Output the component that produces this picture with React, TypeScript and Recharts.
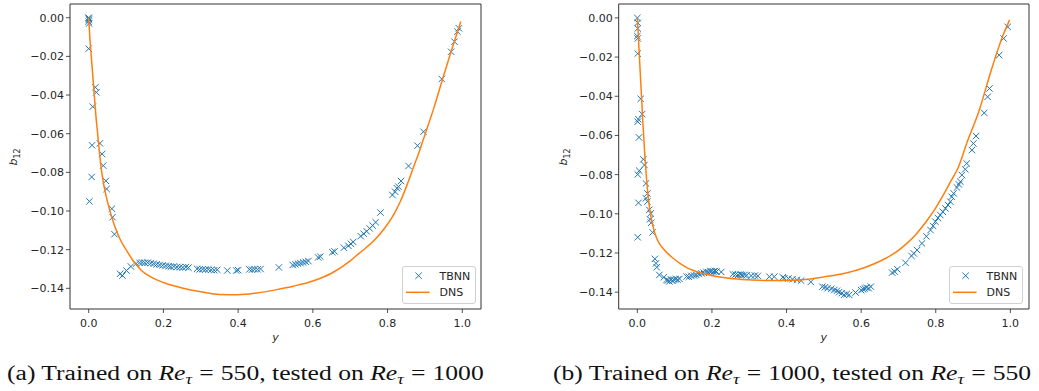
import React from "react";
import {
  ReferenceArea,
  Scatter,
  ScatterChart,
  XAxis,
  YAxis
} from "recharts";

type Pt = { x: number; y: number };

const toPts = (rows: number[][]): Pt[] => rows.map(([x, y]) => ({ x, y }));

// (a) trained on Re_tau = 550, tested on Re_tau = 1000
const tbnnA = toPts([
  [0.0, 0.0], [0.001, -0.001], [0.0, -0.002], [0.001, -0.003], [0.0, -0.0005],
  [0.0, -0.016], [0.018, -0.036], [0.0205, -0.0386], [0.011, -0.046], [0.009, -0.066],
  [0.03, -0.065], [0.036, -0.0705], [0.039, -0.0765], [0.008, -0.0824], [0.046, -0.0844],
  [0.048, -0.0886], [0.002, -0.095], [0.062, -0.0988], [0.064, -0.1032], [0.069, -0.112],
  [0.084, -0.1325], [0.0905, -0.1334], [0.101, -0.1308], [0.113, -0.1287],
  [0.127, -0.1272], [0.136, -0.1268], [0.143, -0.1267], [0.15, -0.1268], [0.158, -0.1267],
  [0.166, -0.127], [0.174, -0.1273], [0.182, -0.1276], [0.19, -0.1279], [0.198, -0.1281],
  [0.206, -0.1284], [0.214, -0.1286], [0.22, -0.1288], [0.228, -0.1287], [0.236, -0.129],
  [0.244, -0.1291], [0.252, -0.1292], [0.26, -0.129], [0.267, -0.1293], [0.29, -0.1299],
  [0.297, -0.1302], [0.305, -0.1301], [0.312, -0.1303], [0.32, -0.1302], [0.328, -0.1305],
  [0.336, -0.1306], [0.344, -0.1304], [0.371, -0.1308], [0.395, -0.1308], [0.4, -0.1306],
  [0.43, -0.1302], [0.437, -0.1303], [0.444, -0.1301], [0.452, -0.1302], [0.46, -0.13],
  [0.509, -0.1292], [0.546, -0.1279], [0.553, -0.1276], [0.56, -0.1272], [0.567, -0.127],
  [0.574, -0.1266], [0.581, -0.1263], [0.588, -0.1259], [0.614, -0.124], [0.62, -0.1236],
  [0.652, -0.1213], [0.658, -0.1209], [0.683, -0.119], [0.695, -0.118], [0.702, -0.117],
  [0.708, -0.116], [0.728, -0.113], [0.736, -0.1118], [0.744, -0.1105], [0.752, -0.109],
  [0.76, -0.1075], [0.768, -0.1058], [0.781, -0.1008], [0.813, -0.0917], [0.82, -0.09],
  [0.825, -0.0882], [0.829, -0.0874], [0.836, -0.0845], [0.856, -0.0767], [0.88, -0.0662],
  [0.896, -0.059], [0.945, -0.0317], [0.97, -0.0176], [0.979, -0.0124], [0.987, -0.0072],
  [0.991, -0.0055]
]);

const dnsA = toPts([
  [0.0, 0.0], [0.003, -0.01], [0.007, -0.02], [0.011, -0.03], [0.015, -0.04],
  [0.019, -0.05], [0.024, -0.06], [0.029, -0.07], [0.035, -0.08], [0.042, -0.088],
  [0.05, -0.095], [0.06, -0.102], [0.07, -0.108], [0.085, -0.115], [0.1, -0.12],
  [0.12, -0.126], [0.14, -0.1305], [0.17, -0.1345], [0.2, -0.137], [0.25, -0.1398],
  [0.3, -0.1418], [0.35, -0.1432], [0.4, -0.1433], [0.45, -0.1424], [0.5, -0.1408],
  [0.55, -0.1388], [0.6, -0.1362], [0.65, -0.1322], [0.7, -0.1258], [0.722, -0.1222],
  [0.745, -0.1185], [0.767, -0.1146], [0.794, -0.1084], [0.816, -0.102], [0.834, -0.0951],
  [0.851, -0.087], [0.869, -0.0775], [0.887, -0.068], [0.9, -0.0605], [0.925, -0.046],
  [0.946, -0.0325], [0.97, -0.0175], [0.996, -0.002]
]);

// (b) trained on Re_tau = 1000, tested on Re_tau = 550
const tbnnB = toPts([
  [0.0, 0.0], [0.001, -0.0025], [0.001, -0.0054], [0.0, -0.0093], [0.001, -0.0105],
  [0.001, -0.0182], [0.009, -0.0413], [0.013, -0.0491], [0.001, -0.053], [0.0025, -0.0517],
  [0.0045, -0.061], [0.016, -0.0722], [0.019, -0.0751], [0.001, -0.0799], [0.005, -0.078],
  [0.023, -0.0845], [0.027, -0.0896], [0.003, -0.0944], [0.023, -0.0921], [0.027, -0.0938],
  [0.032, -0.098], [0.036, -0.0998], [0.034, -0.1028], [0.037, -0.1046], [0.041, -0.1095],
  [0.001, -0.112], [0.047, -0.123], [0.05, -0.1253], [0.052, -0.1273], [0.059, -0.1312],
  [0.071, -0.1324], [0.078, -0.1338], [0.082, -0.134], [0.086, -0.1345], [0.09, -0.1335],
  [0.094, -0.1342], [0.098, -0.1336], [0.103, -0.1333], [0.108, -0.1337], [0.113, -0.1332],
  [0.132, -0.132], [0.138, -0.1322], [0.145, -0.1317], [0.152, -0.1315], [0.158, -0.1312],
  [0.165, -0.1308], [0.172, -0.1304], [0.178, -0.1301], [0.185, -0.1297], [0.19, -0.1298],
  [0.195, -0.1294], [0.199, -0.1293], [0.204, -0.1295], [0.208, -0.1292], [0.212, -0.1295],
  [0.225, -0.1297], [0.256, -0.1309], [0.263, -0.131], [0.27, -0.1312], [0.276, -0.131],
  [0.281, -0.1313], [0.287, -0.1312], [0.293, -0.1314], [0.305, -0.1316], [0.315, -0.1315],
  [0.323, -0.1317], [0.354, -0.1321], [0.367, -0.1321], [0.39, -0.1324], [0.394, -0.1329],
  [0.405, -0.133], [0.416, -0.1334], [0.428, -0.1337], [0.439, -0.1341], [0.465, -0.1348],
  [0.496, -0.1372], [0.503, -0.1375], [0.51, -0.138], [0.52, -0.1383], [0.528, -0.1389],
  [0.535, -0.1393], [0.541, -0.14], [0.548, -0.1405], [0.554, -0.1414], [0.561, -0.141],
  [0.568, -0.1414], [0.585, -0.1402], [0.6, -0.139], [0.605, -0.1385], [0.61, -0.1382],
  [0.614, -0.1377], [0.62, -0.138], [0.626, -0.1372], [0.683, -0.13], [0.69, -0.1295],
  [0.697, -0.1283], [0.719, -0.125], [0.735, -0.1215], [0.741, -0.1202], [0.75, -0.1185],
  [0.763, -0.1151], [0.775, -0.1115], [0.786, -0.1083], [0.793, -0.1062], [0.799, -0.104],
  [0.806, -0.1022], [0.812, -0.1006], [0.819, -0.099], [0.826, -0.0972], [0.833, -0.0955],
  [0.839, -0.0938], [0.843, -0.0913], [0.848, -0.0896], [0.857, -0.0866], [0.862, -0.085],
  [0.866, -0.0836], [0.87, -0.0802], [0.879, -0.0773], [0.883, -0.0743], [0.897, -0.0675],
  [0.901, -0.0641], [0.908, -0.0603], [0.93, -0.0485], [0.939, -0.0403], [0.944, -0.036],
  [0.97, -0.019], [0.982, -0.0105], [0.993, -0.0046]
]);

const dnsB = toPts([
  [0.0, 0.0], [0.005, -0.018], [0.01, -0.036], [0.015, -0.054], [0.02, -0.07],
  [0.025, -0.083], [0.03, -0.093], [0.038, -0.103], [0.047, -0.11], [0.06, -0.1155],
  [0.07, -0.118], [0.096, -0.1227], [0.13, -0.1272], [0.185, -0.1309], [0.25, -0.133],
  [0.3, -0.1337], [0.35, -0.1341], [0.4, -0.134], [0.45, -0.1335], [0.5, -0.1322],
  [0.56, -0.1302], [0.61, -0.1274], [0.666, -0.1227], [0.7, -0.1187], [0.72, -0.1155],
  [0.74, -0.112], [0.76, -0.1075], [0.78, -0.1025], [0.8, -0.097], [0.82, -0.0905],
  [0.84, -0.0835], [0.86, -0.0765], [0.885, -0.063], [0.915, -0.048], [0.95, -0.026],
  [0.977, -0.0105], [0.998, -0.001]
]);

const xTicks = [0, 0.2, 0.4, 0.6, 0.8, 1.0];
const yTicks = [-0.14, -0.12, -0.1, -0.08, -0.06, -0.04, -0.02, 0];
const xDomain: [number, number] = [-0.05, 1.05];

const BLUE = "#1f77b4";
const ORANGE = "#ff7f0e";
const INK = "#262626";
const FONT = "'DejaVu Sans', sans-serif";

const Cross = (props: any) => {
  const { cx, cy } = props;
  const r = 3.2;
  return (
    <path
      d={`M${cx - r},${cy - r}L${cx + r},${cy + r}M${cx - r},${cy + r}L${cx + r},${cy - r}`}
      stroke={BLUE}
      strokeWidth={1}
      fill="none"
    />
  );
};

const NoMark = () => <g />;

const YTitle = ({ px, py }: { px: number; py: number }) => (
  <text
    x={px}
    y={py}
    transform={`rotate(-90, ${px}, ${py})`}
    textAnchor="middle"
    fontFamily={FONT}
    fontSize={11}
    fill={INK}
  >
    <tspan fontStyle="italic">b</tspan>
    <tspan fontSize={8} dy={3}>12</tspan>
  </text>
);

const XTitle = ({ px, py }: { px: number; py: number }) => (
  <text x={px} y={py} textAnchor="middle" fontFamily={FONT} fontSize={11} fontStyle="italic" fill={INK}>
    y
  </text>
);

const fmtY = (v: number) => v.toFixed(2).replace("-", "\u2212");

type PanelProps = {
  left: number;
  width: number;
  yAxisWidth: number;
  marginRight: number;
  yDomain: [number, number];
  tbnn: Pt[];
  dns: Pt[];
  yTitleX: number;
};

function Panel({ left, width, yAxisWidth, marginRight, yDomain, tbnn, dns, yTitleX }: PanelProps) {
  const plotCenter = yAxisWidth + (width - marginRight - yAxisWidth) / 2;
  return (
    <div style={{ position: "absolute", left, top: 0 }}>
      <ScatterChart
        width={width}
        height={391}
        margin={{ top: 4, right: marginRight, bottom: 52, left: 0 }}
      >
        <XAxis
          type="number"
          dataKey="x"
          domain={xDomain}
          ticks={xTicks}
          allowDataOverflow
          height={30}
          axisLine={false}
          tickLine={{ stroke: INK, strokeWidth: 0.8 }}
          tickSize={4}
          tickMargin={6}
          tick={{ fontSize: 11, fill: INK, fontFamily: FONT }}
          tickFormatter={(v: number) => v.toFixed(1)}
          label={<XTitle px={plotCenter} py={341} />}
        />
        <YAxis
          type="number"
          dataKey="y"
          domain={yDomain}
          ticks={yTicks}
          allowDataOverflow
          width={yAxisWidth}
          axisLine={false}
          tickLine={{ stroke: INK, strokeWidth: 0.8 }}
          tickSize={4}
          tickMargin={2}
          tick={{ fontSize: 11, fill: INK, fontFamily: FONT }}
          tickFormatter={fmtY}
          label={<YTitle px={yTitleX} py={157} />}
        />
        <ReferenceArea
          x1={xDomain[0]}
          x2={xDomain[1]}
          y1={yDomain[0]}
          y2={yDomain[1]}
          fill="none"
          stroke="#333"
          strokeWidth={1}
        />
        <Scatter data={tbnn} fill={BLUE} shape={Cross} isAnimationActive={false} />
        <Scatter
          data={dns}
          fill={ORANGE}
          shape={NoMark}
          line={{ stroke: ORANGE, strokeWidth: 1.5 }}
          lineJointType="monotoneX"
          isAnimationActive={false}
        />
      </ScatterChart>
    </div>
  );
}

function LegendBox({ left, top }: { left: number; top: number }) {
  return (
    <svg
      width={75}
      height={39}
      style={{ position: "absolute", left, top }}
    >
      <rect x={0.5} y={0.5} width={73} height={37} rx={2.5} fill="#fff" fillOpacity={0.8} stroke="#d0d0d0" />
      <Cross cx={16.6} cy={9.7} />
      <text x={37.6} y={13.7} fontFamily={FONT} fontSize={11} fill={INK}>TBNN</text>
      <line x1={4} x2={27.6} y1={26.3} y2={26.3} stroke={ORANGE} strokeWidth={1.5} />
      <text x={37.6} y={30.3} fontFamily={FONT} fontSize={11} fill={INK}>DNS</text>
    </svg>
  );
}

// the source figure is stretched a little horizontally, so the captions are too
const capStyle: React.CSSProperties = {
  position: "absolute",
  top: 362,
  fontFamily: "'Liberation Serif', 'Times New Roman', serif",
  fontSize: 20,
  lineHeight: "22px",
  color: "#111",
  whiteSpace: "nowrap",
  transform: "scaleX(1.28)",
  transformOrigin: "0 0"
};

const Re = () => (
  <>
    <i>Re</i>
    <i style={{ fontSize: "0.72em", position: "relative", top: "0.3em" }}>τ</i>
  </>
);

const Eq = () => <span style={{ margin: "0 0.28em" }}>=</span>;

export default function App() {
  return (
    <div style={{ position: "absolute", left: 0, top: 0, width: 1039, height: 391, background: "#fff", overflow: "hidden" }}>
      <Panel
        left={0}
        width={500}
        yAxisWidth={70}
        marginRight={19}
        yDomain={[-0.1507, 0.0071]}
        tbnn={tbnnA}
        dns={dnsA}
        yTitleX={16.5}
      />
      <Panel
        left={540}
        width={499}
        yAxisWidth={78.7}
        marginRight={10}
        yDomain={[-0.1486, 0.0071]}
        tbnn={tbnnB}
        dns={dnsB}
        yTitleX={26.5}
      />
      <LegendBox left={401.7} top={266} />
      <LegendBox left={949} top={266} />
      <div style={{ ...capStyle, left: 7 }}>
        (a) Trained on <Re /><Eq />550, tested on <Re /><Eq />1000
      </div>
      <div style={{ ...capStyle, left: 553 }}>
        (b) Trained on <Re /><Eq />1000, tested on <Re /><Eq />550
      </div>
    </div>
  );
}
